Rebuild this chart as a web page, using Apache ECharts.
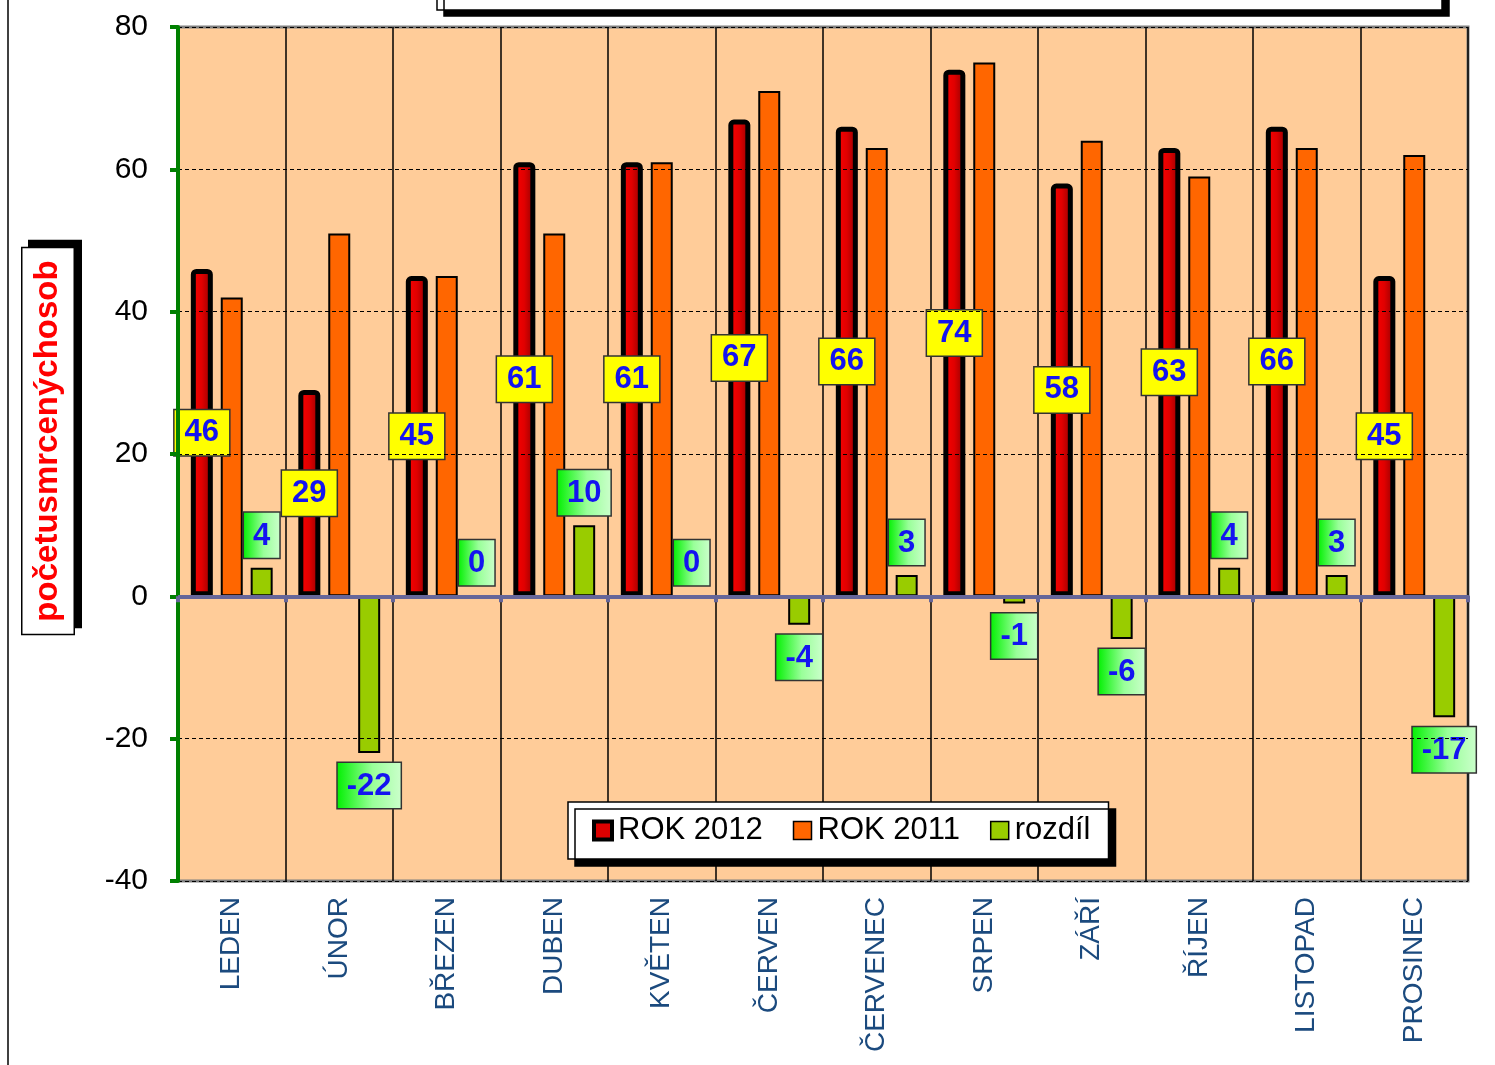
<!DOCTYPE html>
<html>
<head>
<meta charset="utf-8">
<script src="https://cdn.jsdelivr.net/npm/echarts@6/dist/echarts.min.js"></script>
<style>
html,body{margin:0;padding:0;background:#fff;}
#chart{width:1495px;height:1065px;}
</style>
</head>
<body>
<div id="chart"></div>
<script>
var categories = ['LEDEN','ÚNOR','BŘEZEN','DUBEN','KVĚTEN','ČERVEN','ČERVENEC','SRPEN','ZÁŘÍ','ŘÍJEN','LISTOPAD','PROSINEC'];
var rok2012 = [46, 29, 45, 61, 61, 67, 66, 74, 58, 63, 66, 45];
var rok2011 = [42, 51, 45, 51, 61, 71, 63, 75, 64, 59, 63, 62];
var rozdil = [4, -22, 0, 10, 0, -4, 3, -1, -6, 4, 3, -17];
var yTicks = [-40, -20, 0, 20, 40, 60, 80];
var yTitle = 'početusmrcenýchosob';

var chart = echarts.init(document.getElementById('chart'));
var labelFont = 'Arial, "Liberation Sans", sans-serif';

var rozdilData = rozdil.map(function (v) {
  return { value: v, label: { position: v >= 0 ? 'top' : 'bottom' } };
});

var option = {
  animation: false,
  backgroundColor: '#ffffff',
  textStyle: { fontFamily: labelFont },
  grid: {
    left: 178, right: 27, top: 27, bottom: 184,
    show: true, backgroundColor: '#FFCC99',
    borderColor: '#808080', borderWidth: 3
  },
  graphic: [
    { type: 'line', shape: { x1: 8, y1: 0, x2: 8, y2: 1065 }, style: { stroke: '#000', lineWidth: 1.5 }, z: 10 },
    { type: 'rect', shape: { x: 437, y: -60, width: 1005, height: 70 },
      style: { fill: '#fff', stroke: '#000', lineWidth: 1.5, shadowColor: '#000', shadowOffsetX: 7, shadowOffsetY: 6, shadowBlur: 0 }, z: 10 },
    { type: 'text', x: 48, y: 441, rotation: Math.PI / 2, z: 10,
      style: {
        text: yTitle, fill: '#FF0000', fontWeight: 'bold', fontSize: 33, fontFamily: labelFont,
        align: 'center', verticalAlign: 'middle',
        backgroundColor: '#fff', borderColor: '#000', borderWidth: 1.5,
        padding: [9, 12, 9, 12],
        shadowColor: '#000', shadowOffsetX: 7, shadowOffsetY: -7, shadowBlur: 0
      }
    }
  ],
  legend: {
    data: [
      { name: 'ROK 2012', itemStyle: { color: '#DD0000', borderColor: '#000', borderWidth: 4 } },
      { name: 'ROK 2011', itemStyle: { color: '#FF6600', borderColor: '#000', borderWidth: 1.5 } },
      { name: 'rozdíl', itemStyle: { color: '#99CC00', borderColor: '#000', borderWidth: 1.5 } }
    ],
    left: 568, top: 802,
    icon: 'rect', itemWidth: 18, itemHeight: 18, itemGap: 30,
    padding: [13, 18, 13, 24],
    backgroundColor: '#ffffff', borderColor: '#000', borderWidth: 1.5,
    shadowColor: '#000', shadowOffsetX: 7, shadowOffsetY: 7, shadowBlur: 0,
    textStyle: { fontSize: 31, color: '#000', fontFamily: labelFont, padding: [0, 0, 0, 1] }
  },
  xAxis: [
    {
      type: 'category', data: categories, position: 'bottom',
      axisLine: { show: false, onZero: false },
      axisTick: { show: false },
      axisLabel: { rotate: 90, fontSize: 28, color: '#1B4A7E', margin: 16, interval: 0, fontFamily: labelFont },
      splitLine: { show: true, interval: 0, lineStyle: { color: '#000', width: 1.5 } }
    },
    {
      type: 'category', data: categories, position: 'bottom', z: 6,
      axisLine: { show: true, onZero: true, lineStyle: { color: '#666699', width: 4 } },
      axisTick: { show: true, interval: 0, inside: false, length: 6, lineStyle: { color: '#666699', width: 4 } },
      axisLabel: { show: false },
      splitLine: { show: false }
    }
  ],
  yAxis: {
    type: 'value', min: -40, max: 80, interval: 20,
    z: 6,
    axisLine: { show: true, onZero: false, lineStyle: { color: '#008000', width: 4 } },
    axisTick: { show: true, inside: false, length: 8, lineStyle: { color: '#008000', width: 4 } },
    axisLabel: {
      fontSize: 30, color: '#000', margin: 30, fontFamily: labelFont,
      formatter: function (v) { return yTicks.indexOf(v) >= 0 ? String(v) : ''; }
    },
    splitLine: { show: true, lineStyle: { color: '#000', width: 1, type: [4, 3] } }
  },
  series: [
    {
      name: 'ROK 2012', type: 'bar', data: rok2012, xAxisIndex: 0,
      barWidth: 22, barGap: '36%',
      itemStyle: {
        color: new echarts.graphic.LinearGradient(0, 0, 1, 0, [
          { offset: 0, color: '#FF0000' }, { offset: 0.5, color: '#E00000' }, { offset: 1, color: '#8B0000' }
        ]),
        borderColor: '#000', borderWidth: 5, borderRadius: [3, 3, 0, 0]
      },
      label: {
        show: true, position: 'inside',
        color: '#1414F0', fontWeight: 'bold', fontSize: 31, fontFamily: labelFont,
        backgroundColor: '#FFFF00', borderColor: '#333', borderWidth: 1.5,
        padding: [8, 10, 6, 10]
      },
      z: 3
    },
    {
      name: 'ROK 2011', type: 'bar', data: rok2011, xAxisIndex: 0,
      barWidth: 22, barGap: '36%',
      itemStyle: { color: '#FF6600', borderColor: '#000', borderWidth: 2 },
      z: 3
    },
    {
      name: 'rozdíl', type: 'bar', data: rozdilData, xAxisIndex: 0,
      barWidth: 22, barGap: '36%',
      itemStyle: { color: '#99CC00', borderColor: '#000', borderWidth: 2 },
      label: {
        show: true, distance: 10,
        color: '#1414F0', fontWeight: 'bold', fontSize: 31, fontFamily: labelFont,
        backgroundColor: new echarts.graphic.LinearGradient(0, 0, 1, 0, [
          { offset: 0, color: '#00F000' }, { offset: 0.55, color: '#99FF99' }, { offset: 1, color: '#CCFFCC' }
        ]),
        borderColor: '#333', borderWidth: 1.5,
        padding: [8, 9, 6, 9]
      },
      z: 3
    }
  ]
};
chart.setOption(option);
</script>
</body>
</html>
